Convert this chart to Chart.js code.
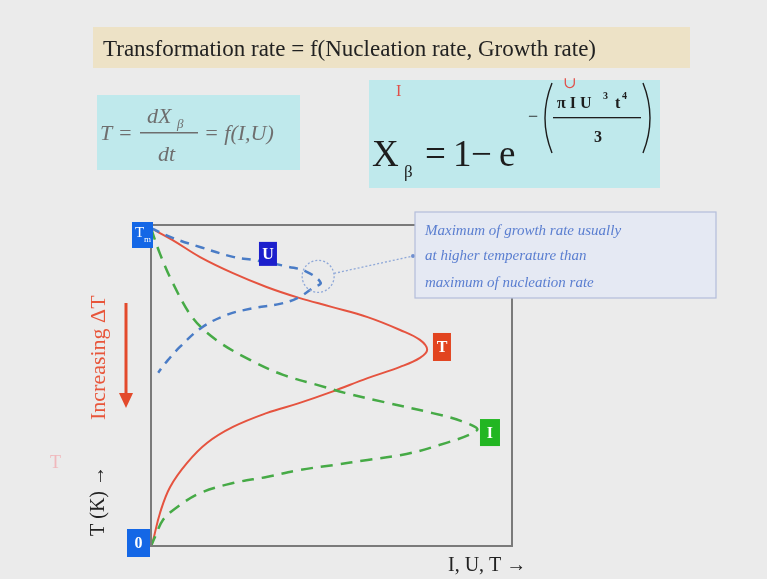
<!DOCTYPE html>
<html>
<head>
<meta charset="utf-8">
<script src="https://cdn.jsdelivr.net/npm/chart.js@4"></script>
<style>
  html, body { margin: 0; padding: 0; background: #ebebeb; }
  #wrap { width: 767px; height: 579px; }
</style>
</head>
<body>
<div id="wrap"><canvas id="kin"></canvas></div>
<script>
// temperature (0 .. Tm ~ 100) vs rate (arbitrary units 0..100)
const uTemp = [99, 96, 93, 90, 89, 87, 85.5, 82, 80.5, 77.5, 75.5, 74, 72, 68, 62, 57, 54];
const uRate = [0, 6, 14, 23, 29, 38, 43, 47, 45, 41, 36, 28, 21, 14, 8, 4, 2];

const tTemp = [99, 95.3, 90, 85, 80.7, 77.3, 74.5, 71.3, 67.3, 64.2, 61.1, 58.6, 55.8, 52.3, 48, 44.5, 41.4, 37.1, 32.1, 25.9, 18.4, 10.3, 1.9, 0];
const tRate = [0, 6, 13.6, 22.7, 32, 41, 50, 60, 69, 74.5, 76.5, 74.5, 69, 60, 50, 41, 32, 22.7, 15.5, 10, 5.3, 2.5, 0.6, 0];

const iTemp = [99, 91, 82, 71, 64, 58, 53.3, 50.2, 47.7, 44.9, 41.4, 38.9, 36.1, 30.8, 28.3, 26.8, 25.2, 23.7, 21.5, 19.6, 16.5, 12.1, 8.1, 2.8, 0];
const iRate = [0, 2.5, 6, 11.6, 18.3, 27.4, 36.6, 46, 53.7, 64.3, 78, 86, 90.3, 78, 69, 60, 50.4, 41.3, 32, 22.7, 13.6, 7.2, 3.3, 1.1, 0];

function pts(rate, temp) {
  return rate.map((r, i) => ({ x: r, y: temp[i] }));
}

const serif = '"Liberation Serif", "DejaVu Serif", serif';

function box(ctx, x, y, w, h, fill, txt, sub) {
  ctx.fillStyle = fill;
  ctx.fillRect(x, y, w, h);
  ctx.fillStyle = '#fff';
  ctx.textAlign = 'center';
  ctx.textBaseline = 'middle';
  if (sub) {
    ctx.font = '15px ' + serif;
    ctx.fillText(txt, x + w / 2 - 3, y + h / 2 - 2);
    ctx.font = '9px ' + serif;
    ctx.fillText(sub, x + w / 2 + 5, y + h / 2 + 5);
  } else {
    ctx.font = 'bold 16px ' + serif;
    ctx.fillText(txt, x + w / 2, y + h / 2 + 1);
  }
}

const slide = {
  id: 'slide',
  beforeDraw(chart) {
    const ctx = chart.ctx;
    ctx.save();
    ctx.fillStyle = '#ebebeb';
    ctx.fillRect(0, 0, chart.width, chart.height);

    // title banner
    ctx.fillStyle = '#ede2c6';
    ctx.fillRect(93, 27, 597, 41);
    ctx.fillStyle = '#222';
    ctx.font = '23px ' + serif;
    ctx.textAlign = 'left';
    ctx.textBaseline = 'alphabetic';
    ctx.fillText('Transformation rate = f(Nucleation rate, Growth rate)', 103, 56);

    // left formula
    ctx.fillStyle = '#bfe9ec';
    ctx.fillRect(97, 95, 203, 75);
    ctx.fillStyle = '#6e6e6e';
    ctx.font = 'italic 22px ' + serif;
    ctx.fillText('T =', 100, 140);
    ctx.fillText('dX', 147, 123);
    ctx.font = 'italic 13px ' + serif;
    ctx.fillText('\u03B2', 177, 128);
    ctx.font = 'italic 22px ' + serif;
    ctx.fillText('dt', 158, 161);
    ctx.fillRect(140, 132, 58, 1.5);
    ctx.fillText('= f(I,U)', 204, 140);

    // right formula
    ctx.fillStyle = '#bfe9ec';
    ctx.fillRect(369, 80, 291, 108);
    ctx.fillStyle = '#1d1d1d';
    ctx.font = '37px ' + serif;
    ctx.fillText('X', 372, 166);
    ctx.font = '17px ' + serif;
    ctx.fillText('\u03B2', 404, 177);
    ctx.font = '37px ' + serif;
    ctx.fillText('=', 425, 166);
    ctx.fillText('1', 453, 166);
    ctx.fillText('\u2212', 471, 166);
    ctx.fillText('e', 499, 166);
    ctx.font = '18px ' + serif;
    ctx.fillText('\u2212', 528, 122);
    ctx.strokeStyle = '#1d1d1d';
    ctx.lineWidth = 1.4;
    ctx.beginPath();
    ctx.moveTo(552, 83);
    ctx.quadraticCurveTo(538, 118, 552, 153);
    ctx.moveTo(643, 83);
    ctx.quadraticCurveTo(657, 118, 643, 153);
    ctx.stroke();
    ctx.font = 'bold 16px ' + serif;
    ctx.fillText('\u03C0 I U', 557, 108);
    ctx.font = 'bold 10px ' + serif;
    ctx.fillText('3', 603, 99);
    ctx.font = 'bold 16px ' + serif;
    ctx.fillText('t', 615, 108);
    ctx.font = 'bold 10px ' + serif;
    ctx.fillText('4', 622, 99);
    ctx.fillRect(553, 117, 88, 1.3);
    ctx.font = 'bold 16px ' + serif;
    ctx.fillText('3', 594, 142);

    // handwritten marks
    ctx.fillStyle = '#e0504a';
    ctx.font = '16px ' + serif;
    ctx.fillText('I', 396, 96);
    ctx.fillText('\u222A', 563, 88);

    // axis titles
    ctx.fillStyle = '#222';
    ctx.font = '20px ' + serif;
    ctx.fillText('I, U, T \u2192', 448, 571);
    ctx.save();
    ctx.translate(104, 536);
    ctx.rotate(-Math.PI / 2);
    ctx.fillText('T (K) \u2192', 0, 0);
    ctx.restore();
    ctx.save();
    ctx.translate(105, 420);
    ctx.rotate(-Math.PI / 2);
    ctx.fillStyle = '#e8553a';
    ctx.font = '22px ' + serif;
    ctx.fillText('Increasing \u0394T', 0, 0);
    ctx.restore();
    ctx.fillStyle = '#f0b8bc';
    ctx.font = '18px ' + serif;
    ctx.fillText('T', 50, 468);

    // red arrow
    ctx.strokeStyle = '#e34a2c';
    ctx.fillStyle = '#e34a2c';
    ctx.lineWidth = 3;
    ctx.beginPath();
    ctx.moveTo(126, 303);
    ctx.lineTo(126, 396);
    ctx.stroke();
    ctx.beginPath();
    ctx.moveTo(119, 393);
    ctx.lineTo(133, 393);
    ctx.lineTo(126, 408);
    ctx.closePath();
    ctx.fill();
    ctx.restore();
  },
  afterDatasetsDraw(chart) {
    const ctx = chart.ctx;
    const a = chart.chartArea;
    const xs = chart.scales.x, ys = chart.scales.y;
    ctx.save();
    ctx.strokeStyle = '#7a7a7a';
    ctx.lineWidth = 2;
    ctx.strokeRect(a.left, a.top, a.right - a.left, a.bottom - a.top);

    // dotted circle and leader to note
    const cx = xs.getPixelForValue(46.3), cy = ys.getPixelForValue(84);
    ctx.strokeStyle = '#8fa8d8';
    ctx.lineWidth = 1.3;
    ctx.setLineDash([2, 2]);
    ctx.beginPath();
    ctx.arc(cx, cy, 16, 0, Math.PI * 2);
    ctx.stroke();
    ctx.beginPath();
    ctx.moveTo(cx + 16, cy - 3);
    ctx.lineTo(413, 256);
    ctx.stroke();
    ctx.setLineDash([]);
    ctx.fillStyle = '#6f8fd0';
    ctx.beginPath();
    ctx.arc(413, 256, 2, 0, Math.PI * 2);
    ctx.fill();

    // note box
    ctx.fillStyle = '#e5e9f3';
    ctx.fillRect(415, 212, 301, 86);
    ctx.strokeStyle = '#b3bddb';
    ctx.lineWidth = 1.2;
    ctx.strokeRect(415, 212, 301, 86);
    ctx.fillStyle = '#5a7ed0';
    ctx.font = 'italic 15px ' + serif;
    ctx.textAlign = 'left';
    ctx.fillText('Maximum of growth rate usually', 425, 235);
    ctx.fillText('at higher temperature than', 425, 260);
    ctx.fillText('maximum of nucleation rate', 425, 287);

    // curve labels
    box(ctx, xs.getPixelForValue(32.4) - 9, ys.getPixelForValue(91) - 12, 18, 24, '#1c1fcc', 'U');
    box(ctx, xs.getPixelForValue(80.6) - 9, ys.getPixelForValue(62) - 14, 18, 28, '#e2441f', 'T');
    box(ctx, xs.getPixelForValue(93.9) - 10, ys.getPixelForValue(35.5) - 13, 20, 27, '#22b622', 'I');
    box(ctx, 132, 222, 21, 26, '#1467e6', 'T', 'm');
    box(ctx, 127, 529, 23, 28, '#1467e6', '0');
    ctx.restore();
  }
};

new Chart(document.getElementById('kin'), {
  type: 'scatter',
  data: {
    datasets: [
      {
        label: 'U',
        data: pts(uRate, uTemp),
        showLine: true,
        borderColor: '#4a7cc6',
        borderWidth: 2.5,
        borderDash: [9, 7],
        tension: 0.4,
        pointRadius: 0
      },
      {
        label: 'I',
        data: pts(iRate, iTemp),
        showLine: true,
        borderColor: '#46aa46',
        borderWidth: 2.5,
        borderDash: [12, 8],
        tension: 0.35,
        pointRadius: 0
      },
      {
        label: 'T',
        data: pts(tRate, tTemp),
        showLine: true,
        borderColor: '#e5533f',
        borderWidth: 2,
        tension: 0.4,
        pointRadius: 0
      }
    ]
  },
  options: {
    responsive: true,
    maintainAspectRatio: false,
    animation: false,
    layout: { padding: { left: 151, top: 225, right: 255, bottom: 33 } },
    scales: {
      x: { display: false, min: 0, max: 100 },
      y: { display: false, min: 0, max: 100 }
    },
    plugins: {
      legend: { display: false },
      tooltip: { enabled: false }
    }
  },
  plugins: [slide]
});
</script>
</body>
</html>
